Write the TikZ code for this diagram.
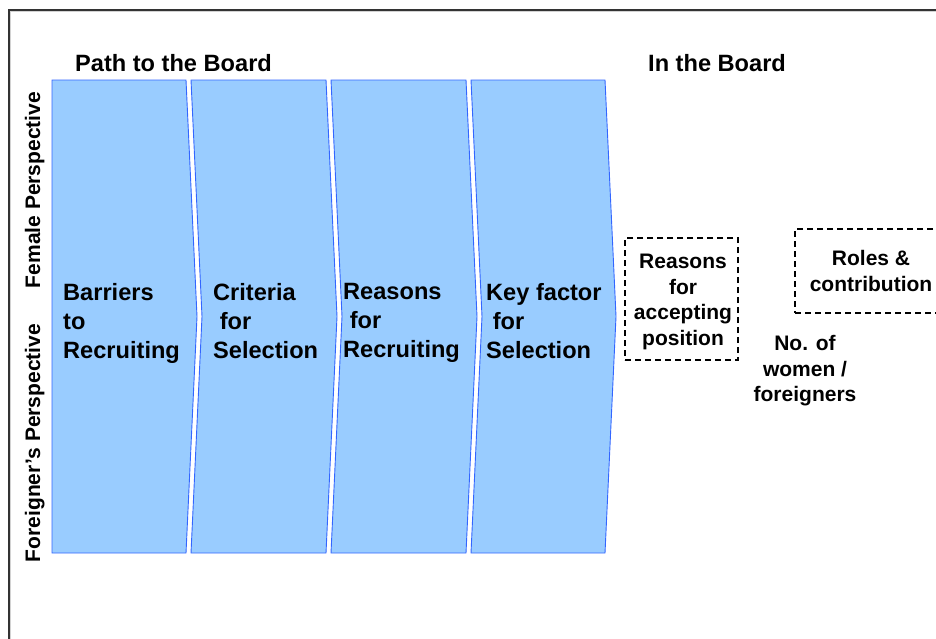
\documentclass[tikz,border=0pt]{standalone}
\usepackage{fontspec}
\setmainfont{Liberation Sans}
\definecolor{chevfill}{HTML}{99CCFF}
\definecolor{chevline}{HTML}{3366FF}
\begin{document}
\begin{tikzpicture}[x=1pt,y=-1pt,
  chev/.style={fill=chevfill, draw=chevline, line width=0.9pt, line join=miter},
  big/.style={font=\bfseries\fontsize{23.6}{29}\selectfont},
  small/.style={font=\bfseries\fontsize{21}{25.5}\selectfont},
  chevtext/.style={big, align=left, anchor=north west, inner sep=0pt},
  dashbox/.style={draw=black, dashed, dash pattern=on 6pt off 4pt, line width=1.8pt, small, align=center, inner sep=0pt},
  side/.style={small, rotate=90, anchor=base, inner sep=0pt},
  head/.style={big, anchor=base west, inner sep=0pt}]
\useasboundingbox (0,0) rectangle (936,638);
\clip (0,0) rectangle (936,638);
% frame
\draw[gray!35, line width=1pt] (10.5,640) -- (10.5,11.8) -- (940,11.8);
\draw[black!80, line width=1.5pt] (9,640) -- (9,10) -- (940,10);
% headings
\node[head] (path) at (75,71) {Path to the Board};
\node[head] (inb) at (648,71) {In the Board};
% side labels
\node[side] (fem) at (40,190) {Female Perspective};
\node[side] (for) at (40,443) {Foreigner’s Perspective};
% chevrons
\filldraw[chev] (52,80) -- (186,80) -- (197,316.5) -- (186,553) -- (52,553) -- cycle;
\filldraw[chev] (191,80) -- (326,80) -- (337,316.5) -- (326,553) -- (191,553) -- (202,316.5) -- cycle;
\filldraw[chev] (331,80) -- (466,80) -- (477,316.5) -- (466,553) -- (331,553) -- (342,316.5) -- cycle;
\filldraw[chev] (471,80) -- (605,80) -- (616,316.5) -- (605,553) -- (471,553) -- (482,316.5) -- cycle;
% chevron texts
\node[chevtext] (c1) at (63,283) {Barriers\\to\\Recruiting};
\node[chevtext] (c2) at (213,283) {Criteria\\\hspace*{0.28em}for\\Selection};
\node[chevtext] (c3) at (343,283) {Reasons\\\hspace*{0.28em}for\\Recruiting};
\node[chevtext] (c4) at (486,283) {Key factor\\\hspace*{0.28em}for\\Selection};
% right side
\node[dashbox, minimum width=113pt, minimum height=122pt] (acc) at (681.5,299) {};
\node[small, align=center, inner sep=0pt, font=\bfseries\fontsize{21}{25.5}\selectfont] (acct) at (683,302) {Reasons\\for\\accepting\\position};
\node[dashbox, minimum width=152pt, minimum height=84pt] (roles) at (871,271) {Roles \&\\contribution};
\node[small, align=center, inner sep=0pt] (num) at (805,371) {No. of\\women /\\foreigners};
\end{tikzpicture}
\end{document}
